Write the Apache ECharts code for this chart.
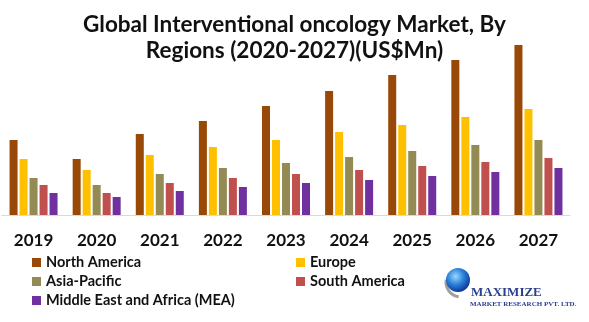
<!DOCTYPE html>
<html>
<head>
<meta charset="utf-8">
<script src="https://cdn.jsdelivr.net/npm/echarts@6/dist/echarts.min.js"></script>
<style>html,body{margin:0;padding:0;background:#fff;}#c{width:589px;height:322px;}</style>
</head>
<body>
<div id="c"></div>
<script>
const years = ['2019','2020','2021','2022','2023','2024','2025','2026','2027'];
const northAmerica = [75, 56, 81, 94, 109, 124, 140, 155, 170];
const europe       = [56, 45, 60, 68, 75, 83, 90, 98, 106];
const asiaPacific  = [37, 30, 41, 47, 52, 58, 64, 70, 75];
const southAmerica = [30, 22, 32, 37, 41, 45, 49, 53, 57];
const mea          = [22, 18, 24, 28, 32, 35, 39, 43, 47];

const names = ['North America','Europe','Asia-Pacific','South America','Middle East and Africa (MEA)'];
const colors = ['#984807','#FFC000','#948A54','#C0504D','#7030A0'];
const values = [northAmerica, europe, asiaPacific, southAmerica, mea];

const FONT = 'Lato';
const chart = echarts.init(document.getElementById('c'), null, {renderer:'canvas'});
chart.setOption({
  animation: false,
  backgroundColor: '#fff',
  title: {
    text: 'Global Interventional oncology Market, By\nRegions (2020-2027)(US$Mn)',
    left: 'center', top: 7,
    textStyle: {fontFamily: FONT, fontWeight: 'bold', fontSize: 22.5, lineHeight: 26, color: '#111'}
  },
  grid: {left: 2, right: 19, top: 40, bottom: 107, containLabel: false},
  xAxis: {
    type: 'category', data: years,
    axisLine: {lineStyle: {color: '#d9d9d9', width: 1}},
    axisTick: {show: false},
    axisLabel: {fontFamily: FONT, fontWeight: 'bold', fontSize: 17, color: '#111', margin: 17}
  },
  yAxis: {type: 'value', min: 0, max: 175, show: false, splitLine: {show: false}},
  legend: [
    {data: [names[0], names[2], names[4]], orient: 'vertical', left: 27, top: 250,
     itemWidth: 9, itemHeight: 9, itemGap: 4, icon: 'rect',
     textStyle: {fontFamily: FONT, fontWeight: 'bold', fontSize: 14.5, lineHeight: 14, color: '#111'}},
    {data: [names[1], names[3]], orient: 'vertical', left: 291, top: 250,
     itemWidth: 9, itemHeight: 9, itemGap: 4, icon: 'rect',
     textStyle: {fontFamily: FONT, fontWeight: 'bold', fontSize: 14.5, lineHeight: 14, color: '#111'}}
  ],
  series: names.map((n, i) => ({
    name: n, type: 'bar', data: values[i], barWidth: 8, barGap: '25%',
    itemStyle: {color: colors[i]}
  })),
  graphic: [
    {type: 'arc', shape: {cx: 461, cy: 282, r: 15, startAngle: Math.PI*0.55, endAngle: Math.PI*1.05},
     style: {stroke: '#a0a0a0', lineWidth: 3, fill: null}},
    {type: 'circle', shape: {cx: 458, cy: 280, r: 12},
     style: {fill: new echarts.graphic.RadialGradient(0.4, 0.35, 0.7, [
       {offset: 0, color: '#9ad8ff'}, {offset: 0.5, color: '#2a7fd8'}, {offset: 1, color: '#0b2f8a'}])}},
    {type: 'text', left: 471, top: 286,
     style: {text: 'MAXIMIZE', font: 'bold 13px "Liberation Serif"', fill: '#2c3f8f'}},
    {type: 'text', left: 470, top: 301,
     style: {text: 'MARKET RESEARCH PVT. LTD.', font: 'bold 7px "Liberation Serif"', fill: '#2c3f8f'}}
  ]
});
</script>
</body>
</html>
